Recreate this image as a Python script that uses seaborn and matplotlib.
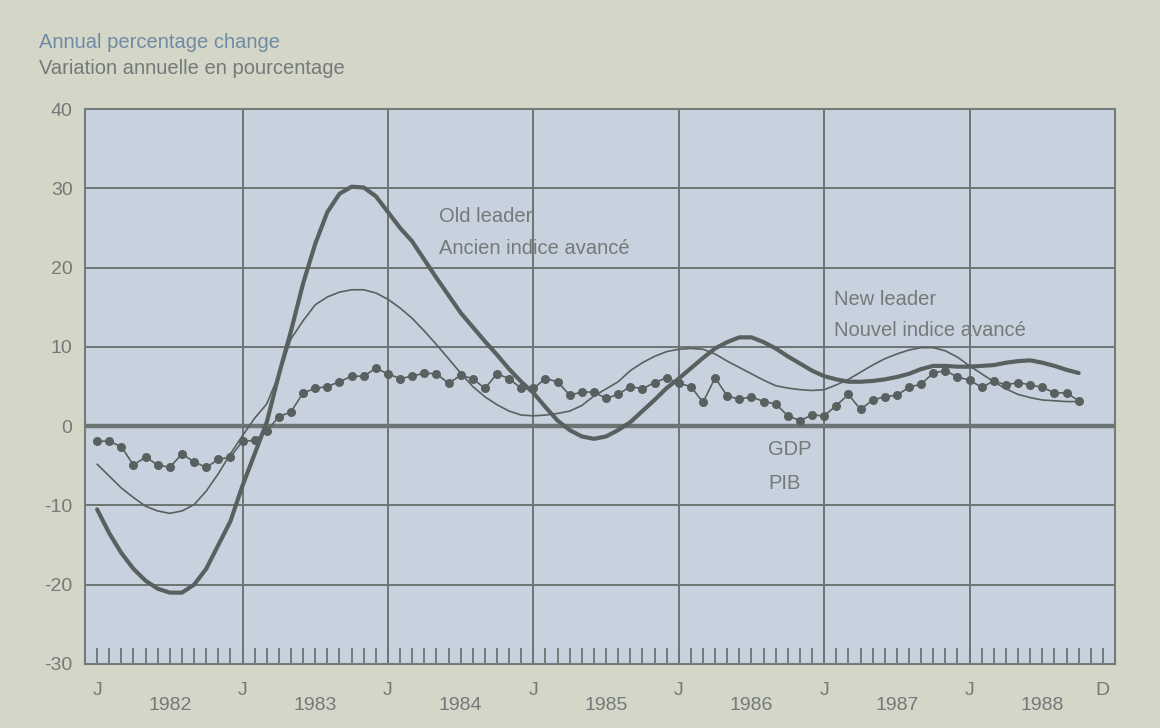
import numpy as np
import pandas as pd
import matplotlib
matplotlib.use('Agg')
import matplotlib.pyplot as plt
import matplotlib.transforms as mtransforms
import seaborn as sns

# month index: 0 = January 1982 ... 81 = October 1988
months = np.arange(82)

gdp = [-1.9, -1.9, -2.6, -4.9, -3.9, -4.9, -5.2, -3.5, -4.5, -5.2, -4.2, -3.9,
       -1.9, -1.8, -0.6, 1.2, 1.8, 4.2, 4.75, 5.0, 5.6, 6.3, 6.3, 7.3,
       6.6, 6.0, 6.3, 6.7, 6.6, 5.4, 6.4, 6.0, 4.75, 6.6, 6.0, 4.75,
       4.75, 6.0, 5.6, 3.9, 4.3, 4.3, 3.5, 4.0, 5.0, 4.7, 5.5, 6.1,
       5.4, 5.0, 3.0, 6.1, 3.8, 3.4, 3.7, 3.1, 2.8, 1.3, 0.7, 1.4,
       1.3, 2.6, 4.0, 2.1, 3.3, 3.7, 3.9, 4.9, 5.3, 6.7, 7.0, 6.2,
       5.8, 4.9, 5.7, 5.2, 5.5, 5.2, 4.9, 4.2, 4.2, 3.2]

old_leader = [-10.5, -13.5, -16, -18, -19.5, -20.5, -21, -21, -20, -18, -15, -12,
              -7.5, -3.5, 0.5, 6.5, 12, 18, 23, 27, 29.3, 30.2, 30.1, 29,
              27, 25, 23.3, 21, 18.7, 16.5, 14.3, 12.5, 10.7, 9, 7.2, 5.6,
              4.2, 2.4, 0.7, -0.5, -1.3, -1.6, -1.3, -0.5, 0.5, 1.9, 3.3, 4.8,
              6.0, 7.3, 8.6, 9.8, 10.6, 11.2, 11.2, 10.6, 9.8, 8.8, 7.9, 7.0,
              6.3, 5.9, 5.6, 5.6, 5.7, 5.9, 6.2, 6.6, 7.2, 7.6, 7.6, 7.5,
              7.5, 7.6, 7.7, 8.0, 8.2, 8.3, 8.0, 7.6, 7.1, 6.7]

new_leader = [-4.8, -6.3, -7.8, -9.0, -10.1, -10.7, -11.0, -10.7, -9.9, -8.2, -6.0, -3.5,
              -1.2, 1.0, 2.8, 6.5, 11.0, 13.3, 15.3, 16.3, 16.9, 17.2, 17.2, 16.8,
              16.0, 14.9, 13.6, 12.0, 10.3, 8.5, 6.7, 5.0, 3.7, 2.7, 1.9, 1.4,
              1.3, 1.4, 1.6, 1.9, 2.6, 3.8, 4.7, 5.6, 7.0, 8.0, 8.8, 9.4,
              9.7, 9.8, 9.7, 9.1, 8.2, 7.4, 6.6, 5.8, 5.1, 4.8, 4.6, 4.5,
              4.6, 5.2, 5.9, 6.8, 7.7, 8.5, 9.1, 9.6, 9.9, 9.9, 9.5, 8.7,
              7.6, 6.6, 5.6, 4.7, 4.0, 3.6, 3.3, 3.2, 3.1, 3.1]

years = ['1982', '1983', '1984', '1985', '1986', '1987', '1988']
month_ticks = [0, 12, 24, 36, 48, 60, 72, 83]
month_labels = ['J', 'J', 'J', 'J', 'J', 'J', 'J', 'D']
y_ticks = [-30, -20, -10, 0, 10, 20, 30, 40]

df = pd.DataFrame({'month': months, 'gdp': gdp,
                   'old': old_leader, 'new': new_leader})

sns.set_theme(style='white')
plt.rcParams['font.family'] = ['Liberation Sans', 'DejaVu Sans']
plt.rcParams['axes.unicode_minus'] = False

fig_bg = '#d4d6c7'
ax_bg = '#c8d2de'
ink = '#58615f'
grid_c = '#6d7574'
txt = '#747a79'
title_c = '#6f8ba4'
fs = 14.5

fig, ax = plt.subplots(figsize=(11.6, 7.28), dpi=100)
fig.patch.set_facecolor(fig_bg)
ax.set_facecolor(ax_bg)
fig.subplots_adjust(left=85 / 1160, right=1115 / 1160,
                    bottom=1 - 664 / 728, top=1 - 109 / 728)

# grid: horizontal every 10, vertical at each January
ax.set_yticks(y_ticks)
ax.yaxis.grid(True, color=grid_c, linewidth=1.4)
ax.axhline(0, color=grid_c, linewidth=3.2, zorder=1.5)
for m in month_ticks[1:-1]:
    ax.axvline(m, color=grid_c, linewidth=1.4, zorder=1.5)

sns.lineplot(data=df, x='month', y='new', color=ink, linewidth=1.2, ax=ax, zorder=3)
sns.lineplot(data=df, x='month', y='old', color=ink, linewidth=3.0, ax=ax, zorder=3)
sns.lineplot(data=df, x='month', y='gdp', color=ink, linewidth=1.2, marker='o',
             markersize=6.5, markeredgewidth=0, markerfacecolor=ink, ax=ax, zorder=4)

ax.set_xlim(-1, 84)
ax.set_ylim(-30, 40)
ax.set_xlabel('')
ax.set_ylabel('')

ax.set_xticks(month_ticks)
ax.set_xticklabels(month_labels)
ax.set_xticks(np.arange(0, 84), minor=True)
ax.xaxis.remove_overlapping_locs = False
ax.tick_params(axis='x', which='major', length=0, pad=13, labelsize=fs - 0.5, colors=txt)
ax.tick_params(axis='x', which='minor', direction='in', length=11.5, width=1.3,
               color=grid_c, bottom=True)
ax.tick_params(axis='y', which='major', length=0, pad=9, labelsize=fs - 0.5, colors=txt)

for spine in ax.spines.values():
    spine.set_color('#747c7b')
    spine.set_linewidth(1.5)

# year labels under each year
trans = mtransforms.blended_transform_factory(ax.transData, ax.transAxes)
for i, yr in enumerate(years):
    ax.text(12 * i + 6, -0.074, yr, transform=trans, ha='center', va='center',
            fontsize=fs - 0.5, color=txt)

# series labels
ax.text(28.2, 26.4, 'Old leader', ha='left', va='center', fontsize=fs, color=txt)
ax.text(28.2, 22.4, 'Ancien indice avancé', ha='left', va='center', fontsize=fs, color=txt)
ax.text(60.8, 16.0, 'New leader', ha='left', va='center', fontsize=fs, color=txt)
ax.text(60.8, 12.0, 'Nouvel indice avancé', ha='left', va='center', fontsize=fs, color=txt)
ax.text(55.4, -3.0, 'GDP', ha='left', va='center', fontsize=fs, color=txt)
ax.text(55.4, -7.2, 'PIB', ha='left', va='center', fontsize=fs, color=txt)

fig.text(39 / 1160, 1 - 43 / 728, 'Annual percentage change', ha='left', va='center',
         fontsize=fs, color=title_c)
fig.text(39 / 1160, 1 - 68 / 728, 'Variation annuelle en pourcentage', ha='left',
         va='center', fontsize=fs, color=txt)

fig.savefig('out.png', dpi=100, facecolor=fig_bg)
